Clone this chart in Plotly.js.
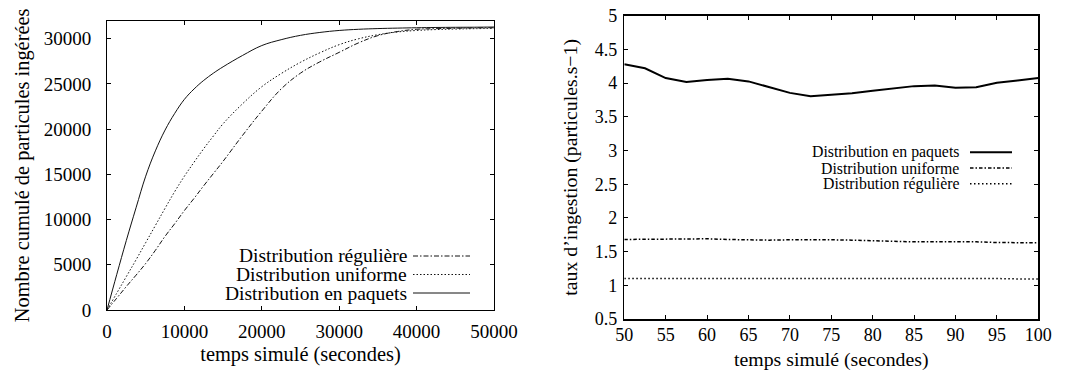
<!DOCTYPE html>
<html><head><meta charset="utf-8">
<script src="https://cdn.plot.ly/plotly-3.0.1.min.js"></script>
<style>html,body{margin:0;padding:0;background:#fff}#chart{width:1070px;height:374px}</style>
</head><body><div id="chart"></div>
<script>
// ---- Left chart: cumulative number of ingested particles ----
const cumulTime = [0,1250,2500,3750,5000,6250,7500,8750,10000,11250,12500,13750,15000,17500,20000,22500,25000,27500,30000,32500,35000,37500,40000,42500,45000,47500,50000];
const cumulPaquets = [0,3900,7700,11300,14800,17600,19900,21750,23300,24450,25400,26200,26900,28150,29250,29900,30380,30700,30920,31050,31130,31180,31220,31250,31270,31280,31300];
const cumulUniforme = [0,1850,3700,5550,7450,9350,11250,13100,14800,16350,17850,19250,20600,22800,24700,26150,27400,28450,29350,30000,30450,30750,30920,31020,31080,31120,31150];
const cumulReguliere = [0,1300,2600,3850,5150,6600,8150,9550,11000,12350,13750,15100,16450,19300,22000,24450,26200,27450,28500,29550,30350,30800,31050,31120,31160,31200,31220];
const cumulTicks = [0,5000,10000,15000,20000,25000,30000];
const cumulTimeTicks = [0,10000,20000,30000,40000,50000];

// ---- Right chart: ingestion rate ----
const rateTime = [50,52.5,55,57.5,60,62.5,65,67.5,70,72.5,75,77.5,80,82.5,85,87.5,90,92.5,95,97.5,100];
const ratePaquets = [4.28,4.22,4.075,4.015,4.045,4.065,4.025,3.94,3.855,3.805,3.825,3.85,3.885,3.915,3.955,3.965,3.93,3.94,4.005,4.04,4.075];
const rateUniforme = [1.68,1.685,1.69,1.695,1.69,1.68,1.67,1.67,1.675,1.68,1.675,1.67,1.66,1.655,1.645,1.645,1.65,1.645,1.635,1.63,1.63];
const rateReguliere = [1.10,1.10,1.105,1.11,1.11,1.105,1.10,1.10,1.10,1.10,1.10,1.10,1.10,1.10,1.105,1.11,1.105,1.10,1.10,1.095,1.095];
const rateTicks = [0.5,1,1.5,2,2.5,3,3.5,4,4.5,5];
const rateTickLabels = ['0.5','1','1.5','2','2.5','3','3.5','4','4.5','5'];
const rateTimeTicks = [50,55,60,65,70,75,80,85,90,95,100];

const NAME_PAQ = 'Distribution en paquets';
const NAME_UNI = 'Distribution uniforme';
const NAME_REG = 'Distribution régulière';

const FONT = 'Liberation Serif, Times New Roman, serif';
const DOT_L = '1.5px,2px';
const DASHDOT_L = '5px,2px,1.5px,2px';
const DOT_R = '1.5px,2.5px';
const DASHDOT_R = '3.5px,2px,1.5px,2px';

const traces = [
  {x: cumulTime, y: cumulReguliere, name: NAME_REG, xaxis:'x', yaxis:'y', mode:'lines', line:{color:'#111', width:1, dash:DASHDOT_L, shape:'spline', smoothing:1.1}},
  {x: cumulTime, y: cumulUniforme, name: NAME_UNI, xaxis:'x', yaxis:'y', mode:'lines', line:{color:'#111', width:1, dash:DOT_L, shape:'spline', smoothing:1.1}},
  {x: cumulTime, y: cumulPaquets, name: NAME_PAQ, xaxis:'x', yaxis:'y', mode:'lines', line:{color:'#111', width:1, shape:'spline', smoothing:1.1}},
  {x: rateTime, y: ratePaquets, name: NAME_PAQ, xaxis:'x2', yaxis:'y2', mode:'lines', line:{color:'#000', width:2}},
  {x: rateTime, y: rateUniforme, name: NAME_UNI, xaxis:'x2', yaxis:'y2', mode:'lines', line:{color:'#000', width:1.5, dash:DASHDOT_R}},
  {x: rateTime, y: rateReguliere, name: NAME_REG, xaxis:'x2', yaxis:'y2', mode:'lines', line:{color:'#000', width:1.5, dash:DOT_R}}
];

function axisBase(extra){
  return Object.assign({
    showgrid:false, zeroline:false, showline:true, linecolor:'#000', linewidth:1,
    mirror:'ticks', ticks:'inside', ticklen:4, tickcolor:'#000', tickwidth:1,
    fixedrange:true, automargin:false
  }, extra);
}

const W = 1070, H = 374;
const px = v => v / W, py = v => 1 - v / H;

const layout = {
  width: W, height: H,
  margin:{l:0,r:0,t:0,b:0},
  paper_bgcolor:'#fff', plot_bgcolor:'#fff',
  showlegend:false,
  font:{family:FONT, color:'#000', size:18},
  xaxis: axisBase({domain:[px(107), px(494)], range:[0,50000], tickvals:cumulTimeTicks, tickformat:'d',
    tickfont:{size:19}, ticklabelstandoff:4, anchor:'y',
    title:{text:'temps simulé (secondes)', font:{size:20.4}, standoff:5}}),
  yaxis: axisBase({domain:[py(310), py(20.7)], range:[0,32000], tickvals:cumulTicks, tickformat:'d',
    tickfont:{size:19}, ticklabelstandoff:11, anchor:'x',
    title:{text:'Nombre cumulé de particules ingérées', font:{size:20.4}, standoff:8}}),
  xaxis2: axisBase({domain:[px(624.3), px(1038.3)], range:[50,100], tickvals:rateTimeTicks,
    tickfont:{size:18}, ticklabelstandoff:-1, anchor:'y2', linewidth:1.5,
    title:{text:'temps simulé (secondes)', font:{size:19.8}, standoff:8}}),
  yaxis2: axisBase({domain:[py(319), py(15.7)], range:[0.5,5], tickvals:rateTicks, ticktext:rateTickLabels,
    tickfont:{size:18}, ticklabelstandoff:2, anchor:'x2', linewidth:1.5,
    title:{text:'taux d’ingestion (particules.s−1)', font:{size:19.8}, standoff:12}}),
  annotations: [], shapes: []
};

// Legend boxes in gnuplot style: text on the left, line sample on the right
function addLegend(entries, textRight, x0, x1, ys, size){
  entries.forEach((e, i) => {
    layout.annotations.push({xref:'paper', yref:'paper', x:px(textRight), y:py(ys[i]), xanchor:'right', yanchor:'middle',
      text:e.name, showarrow:false, borderpad:0, font:{family:FONT, size:size, color:'#000'}});
    layout.shapes.push({type:'line', xref:'paper', yref:'paper', x0:px(x0), x1:px(x1), y0:py(ys[i]), y1:py(ys[i]),
      line:{color:e.line.color, width:e.line.width, dash:e.line.dash || 'solid'}});
  });
}
addLegend([traces[0], traces[1], traces[2]], 408, 413, 470, [256, 274.5, 293], 19.5);
addLegend([traces[3], traces[4], traces[5]], 960, 970, 1012, [152.3, 168, 183.7], 15.8);

Plotly.newPlot('chart', traces, layout, {displayModeBar:false, staticPlot:true});
</script>
</body></html>
